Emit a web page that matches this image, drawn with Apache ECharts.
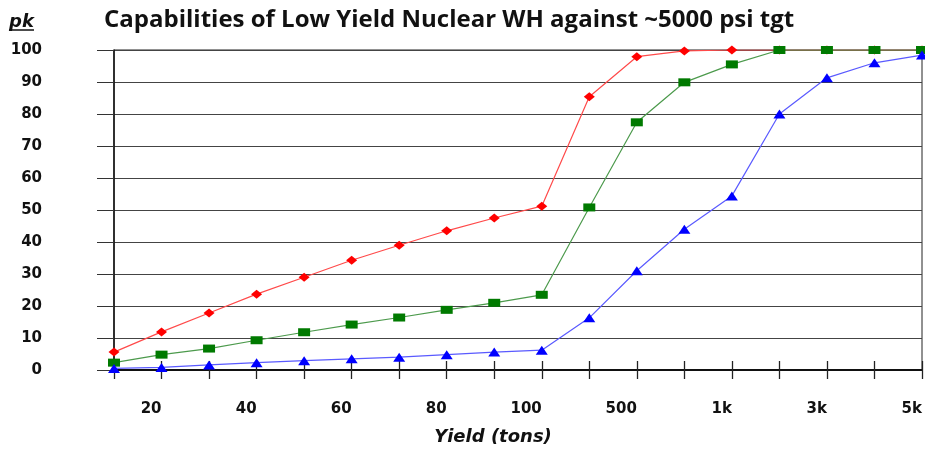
<!DOCTYPE html>
<html>
<head>
<meta charset="utf-8">
<script src="https://cdn.jsdelivr.net/npm/echarts@6/dist/echarts.min.js"></script>
<style>html,body{margin:0;padding:0;background:#fff}#c{width:925px;height:449px}</style>
</head>
<body>
<div id="c"></div>
<script>
const categories = ['10','20','30','40','50','60','70','80','90','100','250','500','750','1k','2k','3k','4k','5k'];
const redValues   = [5.6, 11.9, 17.8, 23.7, 29.0, 34.3, 39.0, 43.5, 47.5, 51.2, 85.4, 97.9, 99.7, 100, 100, 100, 100, 100];
const greenValues = [2.3, 4.8, 6.7, 9.3, 11.8, 14.2, 16.4, 18.8, 21.0, 23.5, 50.8, 77.4, 89.9, 95.5, 100, 100, 100, 100];
const blueValues  = [0.5, 0.8, 1.6, 2.3, 2.9, 3.5, 4.0, 4.8, 5.6, 6.2, 16.3, 31.0, 44.0, 54.4, 80.0, 91.3, 96.0, 98.4];
const yTicks = {min: 0, max: 100, interval: 10};

const chart = echarts.init(document.getElementById('c'));
const labelFont = {fontFamily: 'DejaVu Sans', fontWeight: 'bold', fontSize: 15, color: '#111'};
chart.setOption({
  animation: false,
  backgroundColor: '#fff',
  title: {
    text: 'Capabilities of Low Yield Nuclear WH against ~5000 psi tgt',
    left: 99, top: 3,
    textStyle: {fontFamily: 'Open Sans', fontWeight: 'bold', fontSize: 24, color: '#111'}
  },
  graphic: [
    {type: 'text', left: 9, top: 13, style: {text: 'pk', font: 'italic bold 18px "DejaVu Sans"', fill: '#111'}},
    {type: 'line', shape: {x1: 9, y1: 30, x2: 34, y2: 30}, style: {stroke: '#111', lineWidth: 1.5}},
    {type: 'text', x: 493, y: 437, style: {text: 'Yield (tons)', font: 'italic bold 18px "DejaVu Sans"', fill: '#111', align: 'center', verticalAlign: 'middle'}}
  ],
  grid: {left: 114, right: 1, top: 50, bottom: 79, show: true, borderColor: '#222', borderWidth: 1},
  xAxis: [{
    type: 'category', data: categories, boundaryGap: false,
    axisLine: {show: true, lineStyle: {color: '#111', width: 2}},
    axisTick: {show: true, interval: 0, length: 9, lineStyle: {color: '#222', width: 1.3}},
    axisLabel: Object.assign({interval: (i) => i % 2 === 1, align: 'right', margin: 32}, labelFont),
    splitLine: {show: false}
  }, {
    type: 'category', data: categories, boundaryGap: false, position: 'bottom',
    axisLine: {show: false},
    axisTick: {show: true, inside: true, interval: 0, length: 9, lineStyle: {color: '#222', width: 1.3}},
    axisLabel: {show: false}, splitLine: {show: false}
  }],
  yAxis: {
    type: 'value', min: yTicks.min, max: yTicks.max, interval: yTicks.interval,
    axisLine: {show: true, lineStyle: {color: '#111', width: 1.5}},
    axisTick: {show: true, length: 17, lineStyle: {color: '#333', width: 1}},
    axisLabel: Object.assign({margin: 72, padding: [0, 0, 9, 0]}, labelFont),
    splitLine: {show: true, lineStyle: {color: '#444', width: 1}}
  },
  series: [
    {type: 'line', name: 'red', data: redValues, symbol: 'diamond', symbolSize: [11, 9],
     itemStyle: {color: '#ff0000'}, lineStyle: {color: '#ff4a4a', width: 1.2}, z: 3},
    {type: 'line', name: 'green', data: greenValues, symbol: 'rect', symbolSize: [12, 8],
     itemStyle: {color: '#007a00'}, lineStyle: {color: '#4c9a4c', width: 1.2}, z: 4},
    {type: 'line', name: 'blue', data: blueValues, symbol: 'triangle', symbolSize: [12, 9],
     itemStyle: {color: '#0000ff'}, lineStyle: {color: '#5a5aff', width: 1.2}, z: 5}
  ]
});
</script>
</body>
</html>
